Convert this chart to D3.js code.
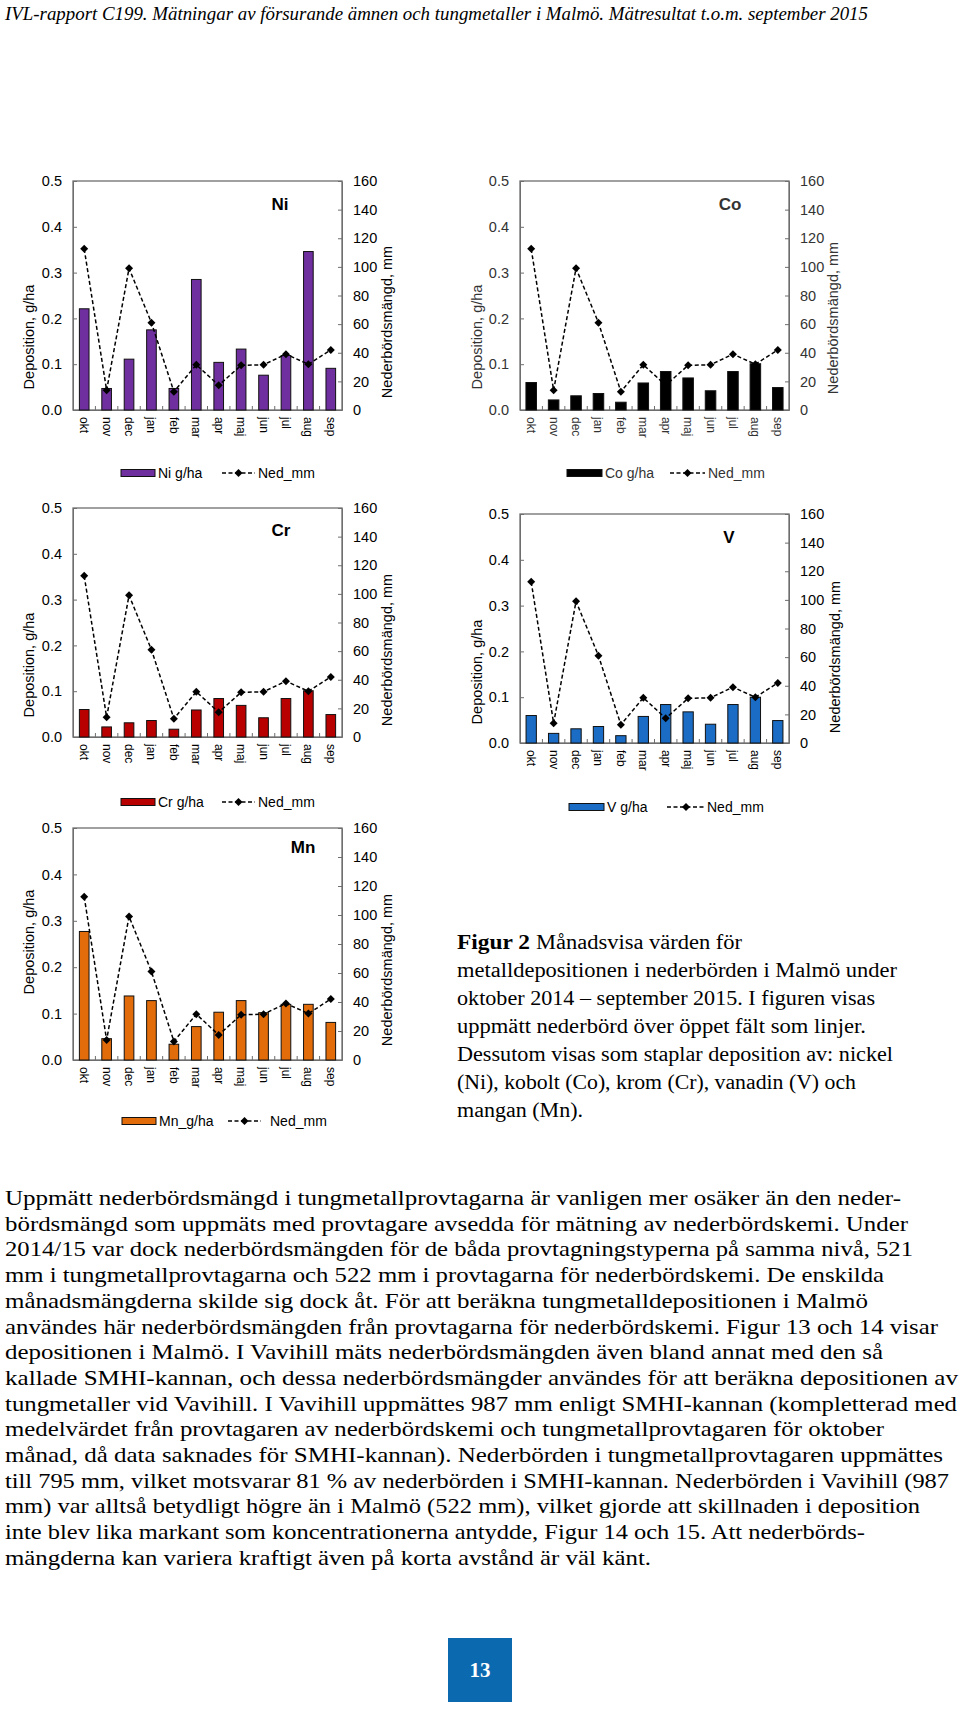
<!DOCTYPE html>
<html><head><meta charset="utf-8">
<script src="https://cdn.jsdelivr.net/npm/d3@7"></script>
<style>body{margin:0;background:#fff}svg{display:block}</style>
</head><body>
<svg id="page" width="960" height="1709"></svg>
<script>
// ---------- data ----------
const months = ["okt","nov","dec","jan","feb","mar","apr","maj","jun","jul","aug","sep"];
const nedValues = [112.6, 13.8, 99.0, 61.0, 12.8, 31.6, 17.3, 31.2, 31.6, 39.0, 32.0, 42.0];
const niValues  = [0.221, 0.047, 0.111, 0.175, 0.047, 0.285, 0.104, 0.133, 0.076, 0.119, 0.346, 0.091];
const coValues  = [0.060, 0.022, 0.031, 0.036, 0.017, 0.059, 0.084, 0.070, 0.042, 0.084, 0.101, 0.049];
const crValues  = [0.060, 0.022, 0.031, 0.036, 0.017, 0.059, 0.084, 0.069, 0.042, 0.084, 0.101, 0.049];
const vValues   = [0.060, 0.021, 0.031, 0.036, 0.016, 0.058, 0.084, 0.068, 0.041, 0.084, 0.100, 0.049];
const mnValues  = [0.277, 0.046, 0.138, 0.128, 0.034, 0.072, 0.103, 0.128, 0.102, 0.120, 0.120, 0.081];
const leftTicks = [0, 0.1, 0.2, 0.3, 0.4, 0.5];
const rightTicks = [0, 20, 40, 60, 80, 100, 120, 140, 160];

const headerText = "IVL-rapport C199. Mätningar av försurande ämnen och tungmetaller i Malmö. Mätresultat t.o.m. september 2015";
const captionLines = [
  "metalldepositionen i nederbörden i Malmö under",
  "oktober 2014 – september 2015. I figuren visas",
  "uppmätt nederbörd över öppet fält som linjer.",
  "Dessutom visas som staplar deposition av: nickel",
  "(Ni), kobolt (Co), krom (Cr), vanadin (V) och",
  "mangan (Mn)."
];
const captionEnds = [897, 875, 866, 893, 856, 583];
const paraLines = [
  "Uppmätt nederbördsmängd i tungmetallprovtagarna är vanligen mer osäker än den neder-",
  "bördsmängd som uppmäts med provtagare avsedda för mätning av nederbördskemi. Under",
  "2014/15 var dock nederbördsmängden för de båda provtagningstyperna på samma nivå, 521",
  "mm i tungmetallprovtagarna och 522 mm i provtagarna för nederbördskemi. De enskilda",
  "månadsmängderna skilde sig dock åt.  För att beräkna tungmetalldepositionen i Malmö",
  "användes här nederbördsmängden från provtagarna för nederbördskemi. Figur 13 och 14 visar",
  "depositionen i Malmö. I Vavihill mäts nederbördsmängden även bland annat med den så",
  "kallade SMHI-kannan, och dessa nederbördsmängder användes för att beräkna depositionen av",
  "tungmetaller vid Vavihill. I Vavihill uppmättes 987 mm enligt SMHI-kannan (kompletterad med",
  "medelvärdet från provtagaren av nederbördskemi och tungmetallprovtagaren för oktober",
  "månad, då data saknades för SMHI-kannan). Nederbörden i tungmetallprovtagaren uppmättes",
  "till 795 mm, vilket motsvarar 81 % av nederbörden i SMHI-kannan. Nederbörden i Vavihill (987",
  "mm) var alltså betydligt högre än i Malmö (522 mm), vilket gjorde att skillnaden i deposition",
  "inte blev lika markant som koncentrationerna antydde, Figur 14 och 15. Att nederbörds-",
  "mängderna kan variera kraftigt även på korta avstånd är väl känt."
];
const paraEnds = [901, 908, 913, 884, 868, 938, 883, 958, 957, 884, 943, 949, 920, 865, 651];

// ---------- page ----------
const svg = d3.select("#page");
svg.append("rect").attr("width",960).attr("height",1709).attr("fill","#fff");

const SERIF = "'Liberation Serif','DejaVu Serif',serif";
const SANS = "'Liberation Sans',Arial,sans-serif";

svg.append("text").attr("x",5).attr("y",20)
  .attr("font-family",SERIF).attr("font-style","italic").attr("font-size",19)
  .attr("textLength",863).attr("lengthAdjust","spacingAndGlyphs")
  .text(headerText);

// ---------- charts ----------
function drawChart(c){
  const g = svg.append("g").attr("font-family",SANS).attr("fill",c.textColor);
  const x = d3.scaleBand().domain(months).range([c.left,c.right]).padding(0);
  const y = d3.scaleLinear().domain([0,0.5]).range([c.bottom,c.top]);
  const y2 = d3.scaleLinear().domain([0,160]).range([c.bottom,c.top]);
  const bw = x.bandwidth()*c.barFrac;

  // frame
  g.append("rect").attr("x",c.left).attr("y",c.top)
    .attr("width",c.right-c.left).attr("height",c.bottom-c.top)
    .attr("fill","none").attr("stroke","#6e6e6e").attr("stroke-width",1.3);

  const la = g.append("g").attr("transform",`translate(${c.left},0)`)
    .call(d3.axisLeft(y).tickValues(leftTicks).tickFormat(d3.format(".1f")).tickSize(-4).tickSizeOuter(0).tickPadding(11));
  const ra = g.append("g").attr("transform",`translate(${c.right},0)`)
    .call(d3.axisRight(y2).tickValues(rightTicks).tickFormat(d3.format("d")).tickSize(-4).tickSizeOuter(0).tickPadding(11));
  const ba = g.append("g").attr("transform",`translate(0,${c.bottom})`)
    .call(d3.axisBottom(x).tickSize(0).tickSizeOuter(0).tickPadding(0));
  [la,ra].forEach(a=>{
    a.selectAll("text").attr("font-size",14.5).attr("fill",c.textColor).attr("font-family",SANS);
    a.selectAll("line").attr("stroke","#6e6e6e");
    a.select(".domain").attr("stroke","#6e6e6e");
  });
  ba.select(".domain").attr("stroke","#6e6e6e");
  ba.selectAll("text").attr("font-size",12).attr("fill",c.textColor).attr("font-family",SANS)
    .attr("text-anchor","start").attr("dy",null).attr("y",null)
    .attr("dominant-baseline","central")
    .attr("transform","translate(0,7) rotate(90)");
  g.append("g").selectAll("line").data(months.slice(1)).join("line")
    .attr("x1",d=>x(d)).attr("x2",d=>x(d))
    .attr("y1",c.bottom).attr("y2",c.bottom-4).attr("stroke","#6e6e6e");

  // bars
  g.append("g").selectAll("rect").data(c.values).join("rect")
    .attr("x",(d,i)=>x(months[i])+x.bandwidth()/2-bw/2)
    .attr("y",d=>y(d)).attr("width",bw).attr("height",d=>c.bottom-y(d))
    .attr("fill",c.color).attr("stroke","#111").attr("stroke-width",1);

  // precipitation line
  const line = d3.line().x((d,i)=>x(months[i])+x.bandwidth()/2).y(d=>y2(d));
  g.append("path").datum(nedValues).attr("d",line).attr("fill","none")
    .attr("stroke","#000").attr("stroke-width",1.5).attr("stroke-dasharray","4,2.5");
  const sym = d3.symbol().type(d3.symbolSquare).size(32);
  g.append("g").selectAll("path").data(nedValues).join("path")
    .attr("d",sym)
    .attr("transform",(d,i)=>`translate(${x(months[i])+x.bandwidth()/2},${y2(d)}) rotate(45)`)
    .attr("fill","#000");

  g.append("text").attr("x",c.titleX).attr("y",c.titleY).attr("text-anchor","middle")
    .attr("dominant-baseline","central").attr("font-weight","bold").attr("font-size",17)
    .text(c.title);

  g.append("text").attr("transform",`translate(${c.lTitleX},${c.lTitleY}) rotate(-90)`)
    .attr("text-anchor","middle").attr("dominant-baseline","central").attr("font-size",14.5)
    .text("Deposition, g/ha");
  g.append("text").attr("transform",`translate(${c.rTitleX},${c.rTitleY}) rotate(-90)`)
    .attr("text-anchor","middle").attr("dominant-baseline","central").attr("font-size",14.5)
    .text("Nederbördsmängd, mm");

  // legend
  const L = c.legend;
  g.append("rect").attr("x",L.barX).attr("y",L.y-3.5).attr("width",L.barW).attr("height",7)
    .attr("fill",c.color).attr("stroke","#111");
  g.append("text").attr("x",L.barX+L.barW+3).attr("y",L.y).attr("dominant-baseline","central")
    .attr("font-size",14).text(c.legendLabel);
  g.append("line").attr("x1",L.lineX).attr("x2",L.lineX+L.lineW).attr("y1",L.y).attr("y2",L.y)
    .attr("stroke","#000").attr("stroke-width",1.4).attr("stroke-dasharray","4,2.5");
  g.append("path").attr("d",sym).attr("transform",`translate(${L.lineX+L.lineW/2},${L.y}) rotate(45)`).attr("fill","#000");
  g.append("text").attr("x",L.lineX+L.lineW+L.gap).attr("y",L.y).attr("dominant-baseline","central")
    .attr("font-size",14).text("Ned_mm");
}

const charts = [
  {title:"Ni", values:niValues, color:"#6f2f9f", textColor:"#000", legendLabel:"Ni g/ha",
   left:73,right:342,top:181,bottom:410, barFrac:0.43, titleX:280,titleY:204,
   lTitleX:29,lTitleY:337, rTitleX:387,rTitleY:322,
   legend:{y:473,barX:121,barW:34,lineX:222,lineW:33,gap:3}},
  {title:"Co", values:coValues, color:"#000000", textColor:"#333", legendLabel:"Co g/ha",
   left:520,right:789,top:181,bottom:410, barFrac:0.47, titleX:730,titleY:204,
   lTitleX:477,lTitleY:337, rTitleX:833,rTitleY:318,
   legend:{y:473,barX:567,barW:35,lineX:670,lineW:35,gap:3}},
  {title:"Cr", values:crValues, color:"#b80000", textColor:"#000", legendLabel:"Cr g/ha",
   left:73,right:342,top:508,bottom:737, barFrac:0.43, titleX:281,titleY:530,
   lTitleX:29,lTitleY:665, rTitleX:387,rTitleY:650,
   legend:{y:802,barX:121,barW:34,lineX:222,lineW:33,gap:3}},
  {title:"V", values:vValues, color:"#1a6cc4", textColor:"#000", legendLabel:"V g/ha",
   left:520,right:789,top:514,bottom:743, barFrac:0.46, titleX:729,titleY:537,
   lTitleX:477,lTitleY:672, rTitleX:835,rTitleY:657,
   legend:{y:807,barX:569,barW:35,lineX:667,lineW:38,gap:2}},
  {title:"Mn", values:mnValues, color:"#e36c0a", textColor:"#000", legendLabel:"Mn_g/ha",
   left:73,right:342,top:828,bottom:1060, barFrac:0.43, titleX:303,titleY:847,
   lTitleX:29,lTitleY:942, rTitleX:387,rTitleY:970,
   legend:{y:1121,barX:122,barW:34,lineX:228,lineW:33,gap:9}}
];
charts.forEach(drawChart);

// ---------- caption ----------
const cap = svg.append("g").attr("font-family",SERIF).attr("font-size",20).attr("fill","#000");
cap.append("text").attr("x",457).attr("y",949).attr("font-weight","bold")
  .attr("textLength",73).attr("lengthAdjust","spacingAndGlyphs").text("Figur 2");
cap.append("text").attr("x",536).attr("y",949)
  .attr("textLength",206).attr("lengthAdjust","spacingAndGlyphs").text("Månadsvisa värden för");
captionLines.forEach((t,i)=>{
  cap.append("text").attr("x",457).attr("y",949+28*(i+1))
    .attr("textLength",captionEnds[i]-457).attr("lengthAdjust","spacingAndGlyphs").text(t);
});

// ---------- paragraph ----------
const para = svg.append("g").attr("font-family",SERIF).attr("font-size",21).attr("fill","#000");
paraLines.forEach((t,i)=>{
  para.append("text").attr("x",5).attr("y",1205+25.7*i)
    .attr("textLength",paraEnds[i]-5).attr("lengthAdjust","spacingAndGlyphs").text(t);
});

// ---------- page number ----------
svg.append("rect").attr("x",448).attr("y",1638).attr("width",64).attr("height",64).attr("fill","#0b69b0");
svg.append("text").attr("x",480).attr("y",1670).attr("text-anchor","middle").attr("dominant-baseline","central")
  .attr("font-family",SERIF).attr("font-weight","bold").attr("font-size",21).attr("fill","#fff").text("13");
</script>
</body></html>
